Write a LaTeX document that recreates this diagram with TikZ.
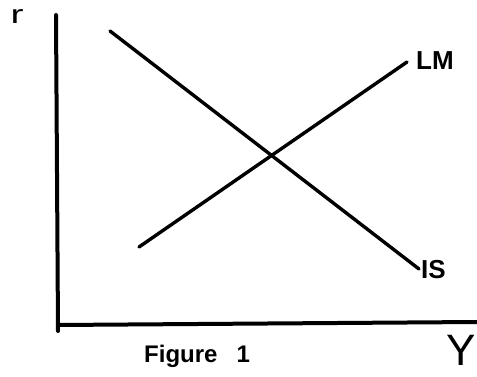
\documentclass[tikz,border=0pt]{standalone}
\usepackage{fontspec}
\setmainfont{Liberation Sans}
\begin{document}
\begin{tikzpicture}[x=1pt,y={(0,-1pt)},
  axis/.style={line width=4pt,line cap=round},
  curve/.style={line width=3.4pt,line cap=round},
  lbl/.style={inner sep=0pt,font=\bfseries\fontsize{26}{26}\selectfont}]
\useasboundingbox (0,0) rectangle (477,377);
\fill[white] (0,0) rectangle (477,377);
% axes
\coordinate (ytop) at (56,15);
\coordinate (ybot) at (58,331);
\coordinate (xl) at (58,325);
\coordinate (xr) at (477,322);
\draw[axis] (ytop) -- (ybot);
\draw[axis] (xl) -- (xr);
% curves
\coordinate (is1) at (110,31);
\coordinate (is2) at (419,269);
\coordinate (lm1) at (139,247);
\coordinate (lm2) at (407,62);
\draw[curve] (is1) -- (is2);
\draw[curve] (lm1) -- (lm2);
% labels
\node[lbl,anchor=west] (lm) at (416,61) {LM};
\node[lbl,anchor=west] (is) at (421,270) {IS};
\node[inner sep=0pt,font=\fontsize{26}{26}\selectfont,xscale=1.5,anchor=base] (r) at (17,24) {r};
\node[inner sep=0pt,font=\fontsize{44}{44}\selectfont] (y) at (461,350) {Y};
\node[inner sep=0pt,anchor=west,font=\bfseries\fontsize{24}{24}\selectfont] (fig) at (144,356) {Figure\hspace{0.8em}1};
\end{tikzpicture}
\end{document}
